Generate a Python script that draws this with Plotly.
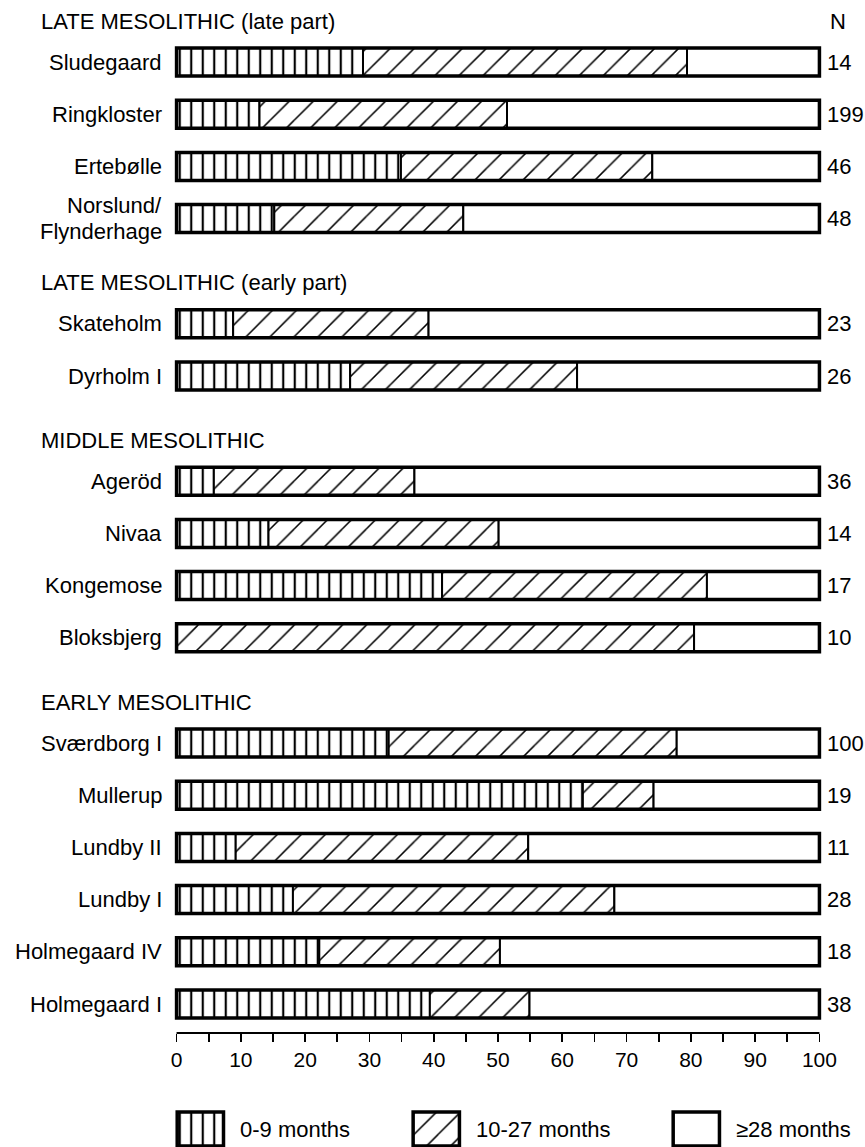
import plotly.graph_objects as go

# ---------------- data ----------------
group_titles = ["LATE MESOLITHIC (late part)", "LATE MESOLITHIC (early part)",
                "MIDDLE MESOLITHIC", "EARLY MESOLITHIC"]
group_sizes = [4, 2, 4, 6]
sites = ["Sludegaard", "Ringkloster", "Ertebølle", "Norslund/<br>Flynderhage",
         "Skateholm", "Dyrholm I",
         "Ageröd", "Nivaa", "Kongemose", "Bloksbjerg",
         "Sværdborg I", "Mullerup", "Lundby II", "Lundby I", "Holmegaard IV", "Holmegaard I"]
pct_0_9 = [29.0, 12.9, 34.9, 15.2, 8.8, 27.0, 5.8, 14.3, 41.3, 0.0,
           33.0, 63.2, 9.2, 18.1, 22.2, 39.4]
pct_10_27 = [50.4, 38.5, 39.1, 29.4, 30.4, 35.3, 31.2, 35.8, 41.2, 80.5,
             44.8, 11.0, 45.5, 50.0, 28.1, 15.5]
pct_28plus = [20.6, 48.6, 26.0, 55.4, 60.8, 37.7, 63.0, 49.9, 17.5, 19.5,
              22.2, 25.8, 45.3, 31.9, 49.7, 45.1]
n_values = [14, 199, 46, 48, 23, 26, 36, 14, 17, 10, 100, 19, 11, 28, 18, 38]
legend_labels = ["0-9 months", "10-27 months", "≥28 months"]
x_ticks = [0, 10, 20, 30, 40, 50, 60, 70, 80, 90, 100]
x_minor = [5, 15, 25, 35, 45, 55, 65, 75, 85, 95]

# ---------------- layout constants (page px) ----------------
W, H = 865, 1147
FONT = "Liberation Sans, Arial, Helvetica, sans-serif"
FS = 22
ROW = 52.2
GROUP_GAP = 53
FIRST = 62
HEAD_OFF = 41
BAR_H = 28
AXIS_Y = 1033
X0_PX, X100_PX = 177, 819
LABEL_RIGHT = 163
LINE_GAP = 13
PAD = 0.4
pxu = (X100_PX - X0_PX) / 100.0
left = X0_PX - PAD * pxu
plot_w = (100 + 2 * PAD) * pxu
right = W - left - plot_w
plot_right = left + plot_w

ypos, head_y = [], []
y = FIRST
for gi, gs in enumerate(group_sizes):
    if gi > 0:
        y += GROUP_GAP
    head_y.append(y - HEAD_OFF)
    for k in range(gs):
        ypos.append(y)
        y += ROW

base2 = list(pct_0_9)
base3 = [a + b for a, b in zip(pct_0_9, pct_10_27)]
totals = [a + b + c for a, b, c in zip(pct_0_9, pct_10_27, pct_28plus)]

VERT = dict(shape="|", size=11.5, solidity=0.19, fgcolor="black", bgcolor="white", fillmode="replace")
DIAG = dict(shape="/", size=17, solidity=0.09, fgcolor="black", bgcolor="white", fillmode="replace")

fig = go.Figure()
common = dict(orientation="h", y=ypos, width=BAR_H, hoverinfo="skip", showlegend=False)
fig.add_trace(go.Bar(x=pct_0_9, base=[0] * len(ypos),
                     marker=dict(color="white", pattern=VERT, line=dict(color="black", width=2)), **common))
fig.add_trace(go.Bar(x=pct_10_27, base=base2,
                     marker=dict(color="white", pattern=DIAG, line=dict(color="black", width=2)), **common))
fig.add_trace(go.Bar(x=pct_28plus, base=base3,
                     marker=dict(color="white", line=dict(color="black", width=2)), **common))
fig.add_trace(go.Bar(x=totals, base=[0] * len(ypos),
                     marker=dict(color="rgba(0,0,0,0)", line=dict(color="black", width=3.5)), **common))

# legend boxes drawn as a small subplot sharing the x mapping
leg_x = [3.7, 40.4, 80.85]
leg_w = 7.2
fig.add_trace(go.Bar(x=leg_x, y=[1, 1, 1], base=[0, 0, 0], width=leg_w, xaxis="x3", yaxis="y3",
                     hoverinfo="skip", showlegend=False,
                     marker=dict(color="white",
                                 pattern=dict(shape=["|", "/", ""], size=[11.5, 17, 10],
                                              solidity=[0.19, 0.09, 0.1],
                                              fgcolor="black", bgcolor="white", fillmode="replace"),
                                 line=dict(color="black", width=3.5))))

txt = dict(family=FONT, size=FS, color="black")
annotations = []
for t, hy in zip(group_titles, head_y):
    annotations.append(dict(text=t, xref="paper", x=0, xshift=39 - left, xanchor="left",
                            yref="y", y=hy, yanchor="middle", showarrow=False, font=txt))
annotations.append(dict(text="N", xref="paper", x=1, xshift=838 - plot_right, xanchor="center",
                        yref="y", y=head_y[0], yanchor="middle", showarrow=False, font=txt))
for s, yy in zip(sites, ypos):
    lines = s.split("<br>")
    k = len(lines)
    for i, ln in enumerate(lines):
        off = (i - (k - 1) / 2) * 2 * LINE_GAP
        annotations.append(dict(text=ln, xref="paper", x=0, xshift=LABEL_RIGHT - left, xanchor="right",
                                yref="y", y=yy + off, yanchor="middle", showarrow=False, font=txt,
                                borderpad=0))
for n, yy in zip(n_values, ypos):
    annotations.append(dict(text=str(n), xref="paper", x=1, xshift=825 - plot_right, xanchor="left",
                            yref="y", y=yy, yanchor="middle", showarrow=False, font=txt))
for lab, lx in zip(legend_labels, leg_x):
    annotations.append(dict(text=lab, xref="x3", x=lx + leg_w / 2 + 2.3, xanchor="left",
                            yref="y3", y=0.5, yanchor="middle", showarrow=False, font=txt))

# main y axis: data units = page px
main_bottom = (H - AXIS_Y) / H
# legend boxes: page px 1112..1146
LB_TOP, LB_BOT = 1112, 1146
unit = LB_BOT - LB_TOP
dom_top_px = LB_TOP - 2
leg_dom = [0, (H - dom_top_px) / H]
leg_range = [-(H - LB_BOT) / unit, 1 + 2 / unit]

fig.update_layout(
    width=W, height=H,
    margin=dict(l=left, r=right, t=0, b=0, pad=0, autoexpand=False),
    paper_bgcolor="white", plot_bgcolor="rgba(0,0,0,0)",
    barmode="overlay",
    font=txt,
    xaxis=dict(range=[-PAD, 100 + PAD], domain=[0, 1], anchor="y", automargin=False,
               tickvals=x_ticks, ticktext=[str(v) for v in x_ticks],
               ticks="outside", ticklen=8, tickwidth=1.6, tickcolor="black",
               minor=dict(tickvals=x_minor, ticks="outside", ticklen=8, tickwidth=1.6, tickcolor="black"),
               showline=False, showgrid=False, zeroline=False,
               tickfont=dict(family=FONT, size=21, color="black")),
    yaxis=dict(range=[AXIS_Y, 0], domain=[main_bottom, 1], anchor="x", automargin=False,
               showticklabels=False, ticks="", showline=False, showgrid=False, zeroline=False),
    xaxis3=dict(range=[-PAD, 100 + PAD], domain=[0, 1], anchor="y3", visible=False),
    yaxis3=dict(range=leg_range, domain=leg_dom, anchor="x3", visible=False),
    annotations=annotations,
    shapes=[dict(type="line", xref="x", yref="paper", x0=0, x1=100, y0=main_bottom, y1=main_bottom,
                 line=dict(color="black", width=2))],
)

fig.write_html("out.html", config={"displayModeBar": False, "staticPlot": True},
               post_script="document.body.style.margin='0';document.body.style.overflow='hidden';")
